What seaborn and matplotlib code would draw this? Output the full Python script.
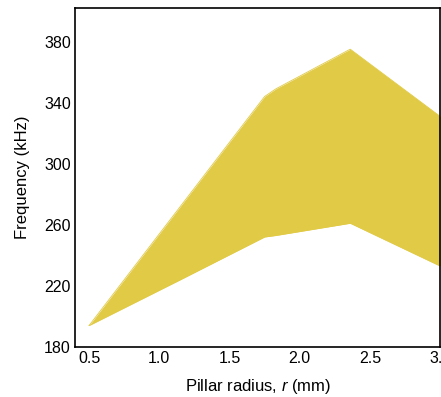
import matplotlib
matplotlib.use("Agg")
import matplotlib.pyplot as plt
import seaborn as sns
import pandas as pd

radius = [0.5, 1.15, 1.75, 1.83, 2.36, 3.0]
freq_low = [194, 224, 252, 253, 261, 233]
freq_high = [194, 272, 344, 349, 375, 331]
x_ticks = [0.5, 1.0, 1.5, 2.0, 2.5, 3.0]
y_ticks = [180, 220, 260, 300, 340, 380]

sns.set_style("white")
plt.rcParams['font.family'] = ['Liberation Sans', 'DejaVu Sans']
plt.rcParams['mathtext.fontset'] = 'custom'
plt.rcParams['mathtext.it'] = 'Liberation Sans:italic'
plt.rcParams['mathtext.rm'] = 'Liberation Sans'
plt.rcParams['text.color'] = 'black'
plt.rcParams['axes.labelcolor'] = 'black'

df = pd.DataFrame({"r": radius + radius,
                   "f": freq_low + freq_high,
                   "edge": ["low"] * len(radius) + ["high"] * len(radius)})

fig = plt.figure(figsize=(4.41, 3.97), dpi=100)
ax = fig.add_axes([0.170, 0.126, 0.828, 0.854])
color = "#E1CA45"
sns.lineplot(data=df, x="r", y="f", hue="edge", palette=[color, color],
             legend=False, ax=ax, linewidth=0.6, sort=False)
ax.fill_between(radius, freq_low, freq_high, color=color, linewidth=0)

ax.set_xlim(0.4, 3.0)
ax.set_ylim(180, 402)
ax.set_xticks(x_ticks)
ax.set_xticklabels([f"{t:.1f}" for t in x_ticks])
ax.set_yticks(y_ticks)
ax.set_yticklabels([str(t) for t in y_ticks])
ax.tick_params(axis='both', length=0, labelsize=11.5, pad=3, colors='black')
ax.set_xlabel(r"Pillar radius, $r$ (mm)", fontsize=12, labelpad=8, color='black')
ax.set_ylabel("Frequency (kHz)", fontsize=12, labelpad=10, color='black')
for s in ax.spines.values():
    s.set_color("black")
    s.set_linewidth(1.2)

fig.savefig("out.png", dpi=100)
